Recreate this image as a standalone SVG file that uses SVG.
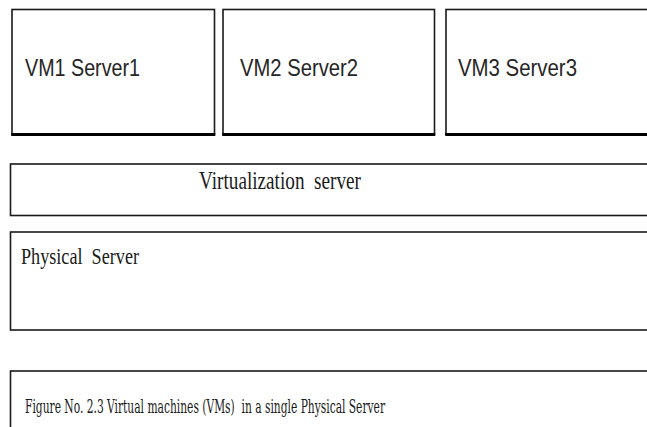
<svg xmlns="http://www.w3.org/2000/svg" width="647" height="427" viewBox="0 0 647 427">
  <style>
    .box { fill: #ffffff; stroke: #1a1a1a; stroke-width: 1.6; }
    .shade { stroke: #000000; stroke-width: 3; }
    .sans { font-family: "Liberation Sans", Arial, sans-serif; fill: #262626; }
    .serif { font-family: "Liberation Serif", "Times New Roman", serif; fill: #1a1a1a; white-space: pre; }
    .cap { font-family: "DejaVu Serif Condensed", "DejaVu Serif", serif; font-stretch: condensed; fill: #1a1a1a; white-space: pre; }
  </style>
  <rect width="647" height="427" fill="#ffffff"/>

  <!-- virtual machines -->
  <g id="vm1">
    <rect class="box" x="12" y="9.5" width="202.5" height="124.5"/>
    <line class="shade" x1="11.2" y1="134.5" x2="215.3" y2="134.5"/>
    <text class="sans" x="25" y="76" font-size="23" textLength="115" lengthAdjust="spacingAndGlyphs">VM1 Server1</text>
  </g>
  <g id="vm2">
    <rect class="box" x="223" y="9.5" width="211.5" height="124.5"/>
    <line class="shade" x1="222.2" y1="134.5" x2="435.3" y2="134.5"/>
    <text class="sans" x="240" y="76" font-size="23" textLength="118" lengthAdjust="spacingAndGlyphs">VM2 Server2</text>
  </g>
  <g id="vm3">
    <rect class="box" x="446" y="9.5" width="210" height="124.5"/>
    <line class="shade" x1="445.2" y1="134.5" x2="656" y2="134.5"/>
    <text class="sans" x="458" y="76" font-size="23" textLength="119" lengthAdjust="spacingAndGlyphs">VM3 Server3</text>
  </g>

  <!-- hypervisor layer -->
  <g id="virtualization">
    <rect class="box" x="10.5" y="164" width="650" height="51.5"/>
    <text class="serif" x="199" y="188.5" font-size="25" textLength="162" lengthAdjust="spacingAndGlyphs" xml:space="preserve">Virtualization  server</text>
  </g>

  <!-- hardware layer -->
  <g id="physical">
    <rect class="box" x="10.5" y="232" width="650" height="98"/>
    <text class="serif" x="21" y="264" font-size="23" textLength="118" lengthAdjust="spacingAndGlyphs" xml:space="preserve">Physical  Server</text>
  </g>

  <!-- caption -->
  <g id="caption">
    <rect class="box" x="10.5" y="371" width="650" height="70"/>
    <text class="cap" x="25" y="413" font-size="19" textLength="360" lengthAdjust="spacingAndGlyphs" xml:space="preserve">Figure No. 2.3 Virtual machines (VMs)  in a single Physical Server</text>
  </g>

  <g id="connectors"></g>
</svg>
